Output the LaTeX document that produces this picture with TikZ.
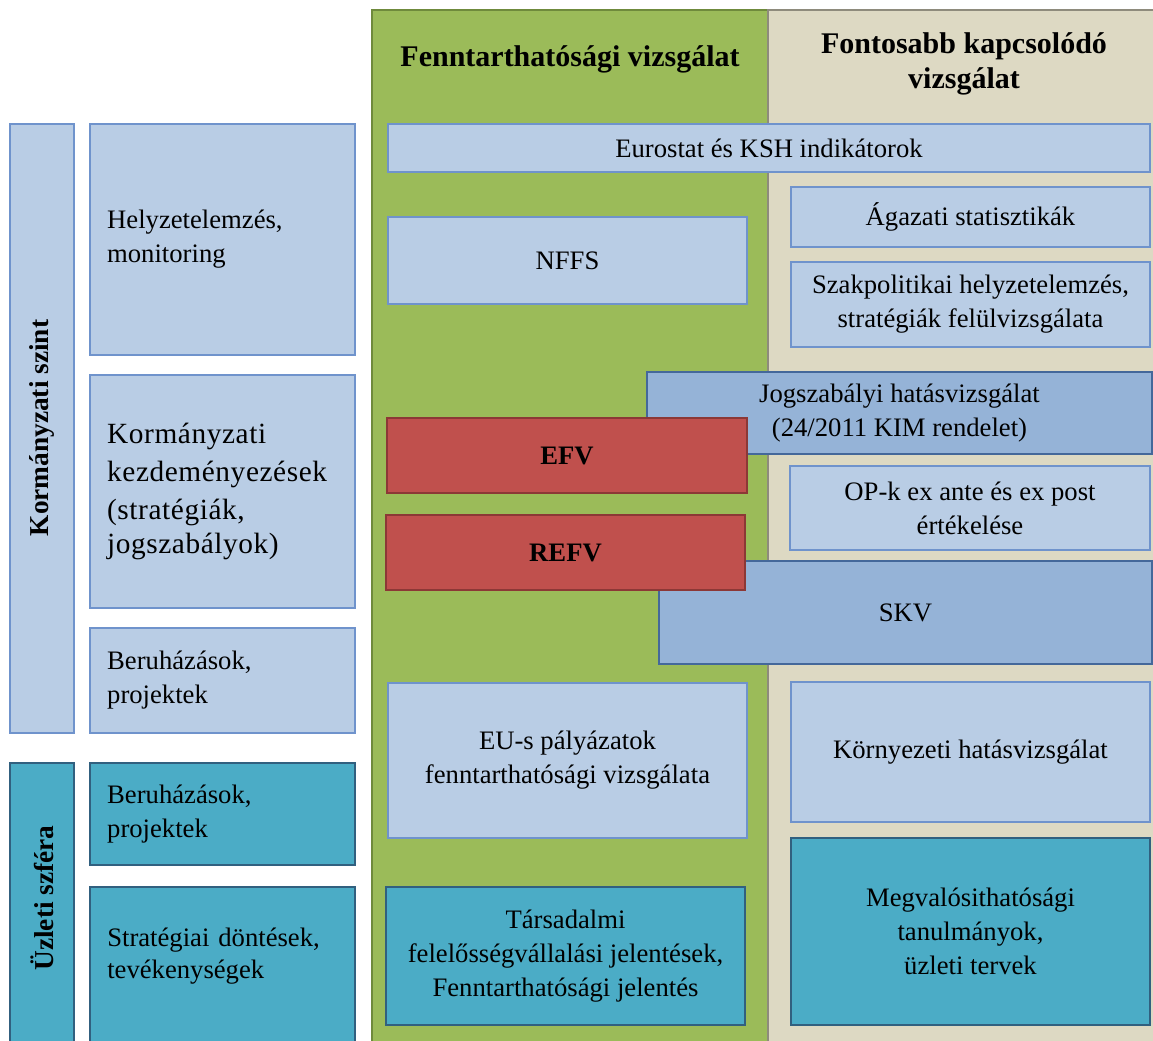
\documentclass[tikz,border=0pt]{standalone}
\usepackage{fontspec}
\setmainfont{Liberation Serif}
\newfontfamily\spacedfont[LetterSpace=2]{Liberation Serif}
\definecolor{gfill}{HTML}{9BBB59}
\definecolor{gline}{HTML}{6F8A3C}
\definecolor{bfill}{HTML}{DDD9C3}
\definecolor{bline}{HTML}{8E8B7C}
\definecolor{lbfill}{HTML}{B9CDE5}
\definecolor{lbline}{HTML}{6F93CC}
\definecolor{mbfill}{HTML}{95B3D7}
\definecolor{mbline}{HTML}{44689A}
\definecolor{rbfill}{HTML}{C0504D}
\definecolor{rbline}{HTML}{8C3836}
\definecolor{tbfill}{HTML}{4BACC6}
\definecolor{tbline}{HTML}{31607F}
\newcommand\mybox[7]{%
  \pgfmathsetmacro\cxx{(#3+#5)/2}%
  \pgfmathsetmacro\cyy{(#4+#6)/2}%
  \pgfmathsetmacro\ww{(#5-#3)*0.75}%
  \pgfmathsetmacro\hh{(#6-#4)*0.75}%
  \node[#2, minimum width=\ww pt, minimum height=\hh pt] (#1) at (\cxx,\cyy) {#7};}
\begin{document}
\begin{tikzpicture}[x=0.75pt,y=-0.75pt,
  base/.style={draw, line width=1.1pt, inner sep=0pt, align=center,
    font=\fontsize{20}{25.5}\selectfont},
  gcol/.style={base, fill=gfill, draw=gline},
  bcol/.style={base, fill=bfill, draw=bline},
  lb/.style={base, fill=lbfill, draw=lbline},
  mb/.style={base, fill=mbfill, draw=mbline},
  rb/.style={base, fill=rbfill, draw=rbline, font=\fontsize{20}{25.5}\selectfont\bfseries},
  tb/.style={base, fill=tbfill, draw=tbline},
  lbl/.style={lb, align=left, text width=173pt},
  tbl/.style={tb, align=left, text width=173pt},
  hdr/.style={align=center, inner sep=0pt, font=\fontsize{22.5}{26.25}\selectfont\bfseries},
  rot/.style={rotate=90, inner sep=0pt, font=\fontsize{20.5}{26}\selectfont\bfseries},
  plain/.style={inner sep=0pt, align=left, text width=173pt, font=\fontsize{20}{24}\selectfont}
]
\useasboundingbox (0,0) rectangle (1153,1041);
\clip (0,0) rectangle (1153,1041);
% columns
\mybox{gcolumn}{gcol}{372}{10}{768}{1070}{}
\mybox{bcolumn}{bcol}{768}{10}{1175}{1070}{}
\node[hdr] (h1) at (570,59) {Fenntarthatósági vizsgálat};
\node[hdr] (h2) at (964,64) {Fontosabb kapcsolódó\\vizsgálat};
% middle / right boxes
\mybox{eur}{lb}{388}{124}{1150}{172}{Eurostat és KSH indikátorok}
\mybox{nffs}{lb}{388}{217}{747}{304}{NFFS}
\mybox{aga}{lb}{791}{187}{1150}{247}{Ágazati statisztikák}
\mybox{szak}{lb}{791}{262}{1150}{347}{Szakpolitikai helyzetelemzés,\\stratégiák felülvizsgálata}
\mybox{jog}{mb}{647}{372}{1152}{454}{Jogszabályi hatásvizsgálat\\(24/2011 KIM rendelet)}
\mybox{efv}{rb}{387}{418}{747}{493}{EFV}
\mybox{opk}{lb}{790}{466}{1150}{550}{OP-k ex ante és ex post\\értékelése}
\mybox{skv}{mb}{659}{561}{1152}{664}{SKV}
\mybox{refv}{rb}{386}{515}{745}{590}{REFV}
\mybox{eus}{lb}{388}{683}{747}{838}{EU-s pályázatok\\fenntarthatósági vizsgálata}
\mybox{korny}{lb}{791}{682}{1150}{822}{Környezeti hatásvizsgálat}
\mybox{tars}{tb}{386}{887}{745}{1025}{Társadalmi\\felelősségvállalási jelentések,\\Fenntarthatósági jelentés}
\mybox{megv}{tb}{791}{838}{1150}{1025}{Megvalósithatósági\\tanulmányok,\\üzleti tervek}
% left side
\mybox{kszint}{lb}{10}{124}{74}{733}{}
\node[rot] (kszintt) at (42,428) {Kormányzati szint};
\mybox{helyz}{lbl}{90}{124}{355}{355}{Helyzetelemzés,\\monitoring}
\mybox{korm}{lbl}{90}{375}{355}{608}{\fontsize{22}{28.5}\selectfont\spacedfont Kormányzati\\kezdeményezések\\(stratégiák,\\jogszabályok)}
\mybox{beru1}{lbl}{90}{628}{355}{733}{Beruházások,\\projektek}
\mybox{uzlet}{tb}{10}{763}{74}{1070}{}
\node[rot] (uzlett) at (42,898) {Üzleti szféra};
\mybox{beru2}{tbl}{90}{763}{355}{865}{Beruházások,\\projektek}
\mybox{strat}{tbl}{90}{887}{355}{1070}{}
\node[plain, anchor=west] (stratt) at (107,956) {Stratégiai döntések,\\tevékenységek};
\end{tikzpicture}
\end{document}
